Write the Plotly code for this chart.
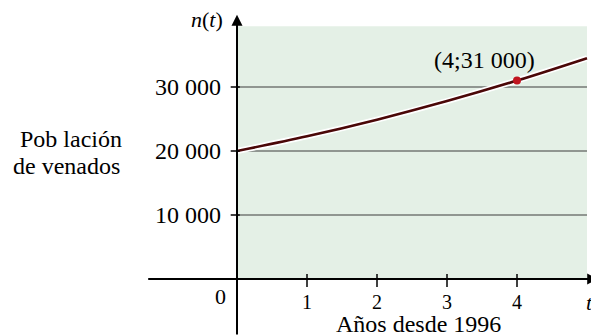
import plotly.graph_objects as go

# Data
years = [0, 1, 2, 3, 4, 5]
deer = [20000, 22300, 24900, 27800, 31000, 34500]
point_t = [4]
point_n = [31000]
point_label = "(4;31 000)"
ytick_vals = [10000, 20000, 30000]
ytick_text = ["10 000", "20 000", "30 000"]
xtick_vals = [1, 2, 3, 4]
xtick_text = ["1", "2", "3", "4"]

FONT = "Liberation Serif"
# page body has an 8px margin, so the figure is 8px smaller in each direction
W, H = 591, 328
X0, Y0 = 229, 271          # pixel position of the origin inside the figure
PX_T, PX_N = 70, 64 / 10000
x_range = [-X0 / PX_T, (W - X0) / PX_T]
y_range = [-(H - Y0) / PX_N, Y0 / PX_N]

fig = go.Figure()

# white halo + curve
fig.add_trace(go.Scatter(x=years, y=deer, mode="lines",
                         line=dict(color="white", width=6, shape="spline"),
                         hoverinfo="skip", showlegend=False))
fig.add_trace(go.Scatter(x=years, y=deer, mode="lines",
                         line=dict(color="#4a0707", width=2.6, shape="spline"),
                         showlegend=False))
fig.add_trace(go.Scatter(x=point_t, y=point_n, mode="markers",
                         marker=dict(color="#c0151f", size=8),
                         showlegend=False))

shapes = []
# shaded first quadrant
shapes.append(dict(type="rect", xref="x", yref="y", x0=0, x1=years[-1],
                   y0=0, y1=39500, fillcolor="#e4f0e6", line=dict(width=0),
                   layer="below"))
# grid lines
for v in ytick_vals:
    shapes.append(dict(type="line", xref="x", yref="y", x0=0, x1=years[-1],
                       y0=v, y1=v, line=dict(color="#3d3d3d", width=1),
                       layer="below"))
# y ticks
for v in ytick_vals:
    shapes.append(dict(type="line", xref="x", yref="y", x0=-0.09, x1=0.04,
                       y0=v, y1=v, line=dict(color="black", width=1.5)))
# x ticks
for v in xtick_vals:
    shapes.append(dict(type="line", xref="x", yref="y", x0=v, x1=v,
                       y0=800, y1=-1250, line=dict(color="black", width=1.5)))

annotations = []
# axes with arrows
annotations.append(dict(x=5.16, y=0, ax=-1.29, ay=0, xref="x", yref="y",
                        axref="x", ayref="y", text="", showarrow=True,
                        arrowhead=2, arrowsize=1.1, arrowwidth=2,
                        arrowcolor="black"))
annotations.append(dict(x=0, y=41300, ax=0, ay=y_range[0], xref="x", yref="y",
                        axref="x", ayref="y", text="", showarrow=True,
                        arrowhead=2, arrowsize=1.1, arrowwidth=2,
                        arrowcolor="black"))

for v, t in zip(ytick_vals, ytick_text):
    annotations.append(dict(x=-0.2, y=v, xref="x", yref="y", text=t,
                            showarrow=False, xanchor="right", yanchor="middle",
                            font=dict(family=FONT, size=24, color="black")))
for v, t in zip(xtick_vals, xtick_text):
    annotations.append(dict(x=v, y=-3600, xref="x", yref="y", text=t,
                            showarrow=False, xanchor="center", yanchor="middle",
                            font=dict(family=FONT, size=20, color="black")))
annotations.append(dict(x=-0.24, y=-2800, xref="x", yref="y", text="0",
                        showarrow=False, xanchor="center", yanchor="middle",
                        font=dict(family=FONT, size=22, color="black")))
annotations.append(dict(x=0.994, y=0.0, xref="paper", yref="paper",
                        yshift=34,
                        text="<i>t</i>",
                        showarrow=False, xanchor="right", yanchor="middle",
                        font=dict(family=FONT, size=22, color="black")))
annotations.append(dict(x=-0.17, y=40500, xref="x", yref="y",
                        text="<i>n</i>(<i>t</i>)",
                        showarrow=False, xanchor="right", yanchor="middle",
                        font=dict(family=FONT, size=22, color="black")))
annotations.append(dict(x=3.54, y=34200, xref="x", yref="y", text=point_label,
                        showarrow=False, xanchor="center", yanchor="middle",
                        font=dict(family=FONT, size=24, color="black")))
annotations.append(dict(x=2.586, y=-7100, xref="x", yref="y",
                        text="Años desde 1996",
                        showarrow=False, xanchor="center", yanchor="middle",
                        font=dict(family=FONT, size=24, color="black")))
annotations.append(dict(x=-2.37, y=21900, xref="x", yref="y",
                        text="Pob lación",
                        showarrow=False, xanchor="center", yanchor="middle",
                        font=dict(family=FONT, size=24, color="black")))
annotations.append(dict(x=-2.43, y=17700, xref="x", yref="y",
                        text="de venados",
                        showarrow=False, xanchor="center", yanchor="middle",
                        font=dict(family=FONT, size=24, color="black")))

fig.update_layout(
    width=W, height=H,
    margin=dict(l=0, r=0, t=0, b=0),
    paper_bgcolor="white", plot_bgcolor="white",
    xaxis=dict(range=x_range, visible=False, fixedrange=True),
    yaxis=dict(range=y_range, visible=False, fixedrange=True),
    shapes=shapes, annotations=annotations,
    showlegend=False,
)

fig.write_html("out.html")
